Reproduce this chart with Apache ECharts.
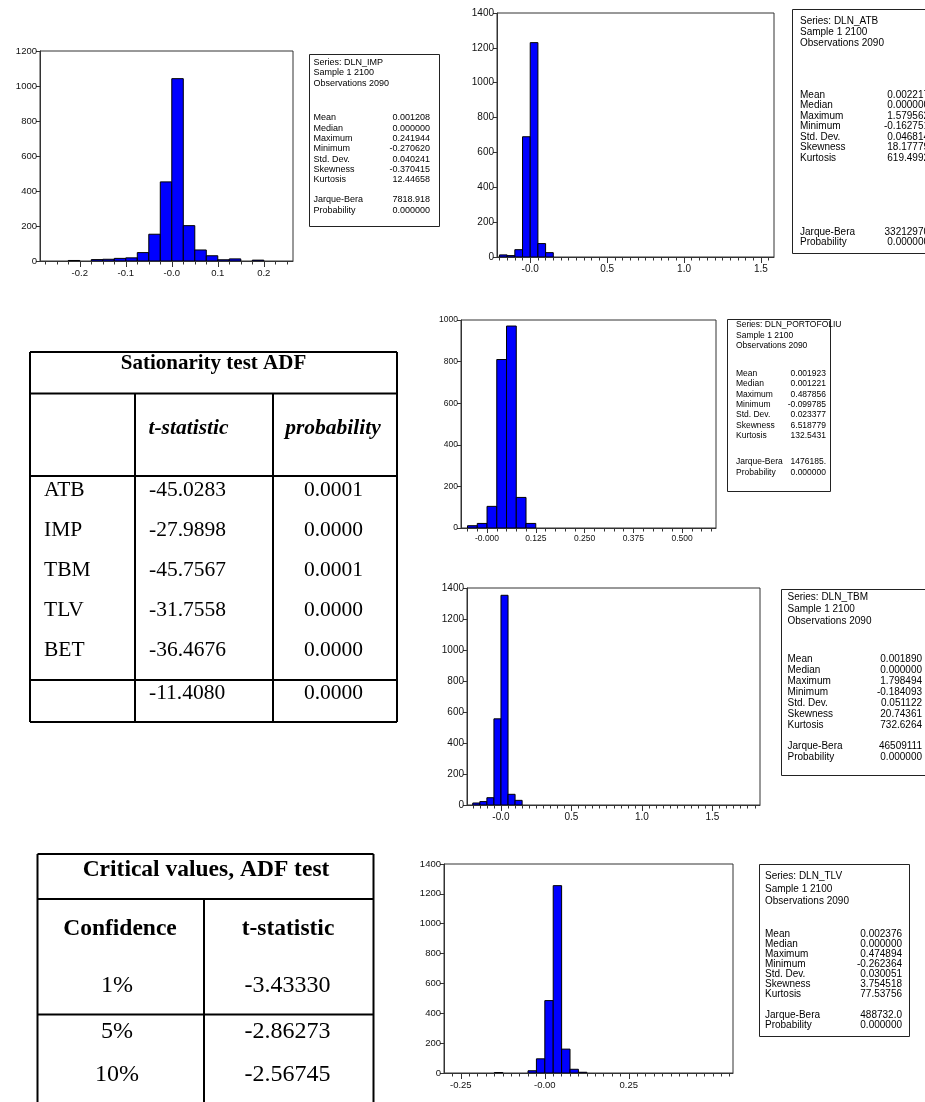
<!DOCTYPE html>
<html><head><meta charset="utf-8">
<script src="https://cdn.jsdelivr.net/npm/echarts@6/dist/echarts.min.js"></script>
<style>html,body{margin:0;padding:0;background:#fff}#c{width:925px;height:1102px}</style>
</head><body><div id="c"></div>
<script>
// ================= DATA =================
// --- IMP histogram ---
const impBinWidth = 0.025;
const impBinStarts = [-0.225,-0.175,-0.15,-0.125,-0.1,-0.075,-0.05,-0.025,0,0.025,0.05,0.075,0.1,0.125,0.175];
const impCounts    = [3,8,10,15,18,48,153,452,1042,202,63,30,7,12,5];
const impTicks     = [-0.2,-0.1,0,0.1,0.2];
const impTickLabels= ['-0.2','-0.1','-0.0','0.1','0.2'];
// --- ATB histogram ---
const atbBinWidth = 0.05;
const atbBinStarts = [-0.2,-0.15,-0.1,-0.05,0,0.05,0.1];
const atbCounts    = [12,8,42,690,1230,77,25];
const atbTicks     = [0,0.5,1,1.5];
const atbTickLabels= ['-0.0','0.5','1.0','1.5'];
// --- PORTOFOLIU histogram ---
const porBinWidth = 0.025;
const porBinStarts = [-0.05,-0.025,0,0.025,0.05,0.075,0.1];
const porCounts    = [11,22,104,810,971,147,22];
const porTicks     = [0,0.125,0.25,0.375,0.5];
const porTickLabels= ['-0.000','0.125','0.250','0.375','0.500'];
// --- TBM histogram ---
const tbmBinWidth = 0.05;
const tbmBinStarts = [-0.2,-0.15,-0.1,-0.05,0,0.05,0.1];
const tbmCounts    = [13,22,47,556,1353,69,30];
const tbmTicks     = [0,0.5,1,1.5];
const tbmTickLabels= ['-0.0','0.5','1.0','1.5'];
// --- TLV histogram ---
const tlvBinWidth = 0.025;
const tlvBinStarts = [-0.15,-0.05,-0.025,0,0.025,0.05,0.075,0.1];
const tlvCounts    = [3,15,95,485,1255,160,25,5];
const tlvTicks     = [-0.25,0,0.25];
const tlvTickLabels= ['-0.25','-0.00','0.25'];

// --- descriptive statistics ---
const statLabels = ['Mean','Median','Maximum','Minimum','Std. Dev.','Skewness','Kurtosis','Jarque-Bera','Probability'];
const impStats = ['0.001208','0.000000','0.241944','-0.270620','0.040241','-0.370415','12.44658','7818.918','0.000000'];
const atbStats = ['0.002217','0.000000','1.579562','-0.162751','0.046814','18.17779','619.4992','33212970','0.000000'];
const porStats = ['0.001923','0.001221','0.487856','-0.099785','0.023377','6.518779','132.5431','1476185.','0.000000'];
const tbmStats = ['0.001890','0.000000','1.798494','-0.184093','0.051122','20.74361','732.6264','46509111','0.000000'];
const tlvStats = ['0.002376','0.000000','0.474894','-0.262364','0.030051','3.754518','77.53756','488732.0','0.000000'];
const sampleText = 'Sample 1 2100';
const obsText = 'Observations 2090';

// --- ADF table ---
const adfTitle = 'Sationarity test ADF';
const adfHeaders = ['t-statistic','probability'];
const adfNames = ['ATB','IMP','TBM','TLV','BET'];
const adfT = ['-45.0283','-27.9898','-45.7567','-31.7558','-36.4676'];
const adfP = ['0.0001','0.0000','0.0001','0.0000','0.0000'];
const adfLastT = '-11.4080';
const adfLastP = '0.0000';
// --- critical values table ---
const critTitle = 'Critical values, ADF test';
const critHeaders = ['Confidence','t-statistic'];
const critConf = ['1%','5%','10%'];
const critT = ['-3.43330','-2.86273','-2.56745'];

// ================= BUILD =================
const SANS = '"Liberation Sans", Arial, sans-serif';
const SERIF = '"Liberation Serif", "Times New Roman", serif';
const grids=[], xAxes=[], yAxes=[], series=[], graphics=[];

function range(a,b,s){const r=[];for(let v=a;v<=b+1e-9;v+=s)r.push(Math.round(v*1e6)/1e6);return r;}

function addHist(o){
  const g = grids.length;
  grids.push({left:o.left, top:o.top, width:o.width, height:o.height, show:true, borderColor:'#333', borderWidth:1, backgroundColor:'rgba(0,0,0,0)'});
  grids.push({left:o.left, top:o.top, width:o.width, height:o.height, show:false});
  const xi = xAxes.length;
  xAxes.push({type:'value', gridIndex:g, min:o.xmin, max:o.xmax, position:'bottom',
    axisLine:{show:true, onZero:false, lineStyle:{color:'#333', width:1}},
    axisTick:{show:true, length:o.majorLen, customValues:o.ticks, lineStyle:{color:'#333'}},
    axisLabel:{show:true, customValues:o.ticks, fontSize:o.fs, fontFamily:SANS, color:'#111', margin:o.majorLen+1,
      formatter:(v)=>{const k=o.ticks.findIndex(m=>Math.abs(m-v)<1e-9);return k>=0?o.labels[k]:'';}},
    splitLine:{show:false}});
  xAxes.push({type:'value', gridIndex:g+1, min:o.xmin, max:o.xmax, position:'bottom',
    axisLine:{show:false, onZero:false}, axisTick:{show:true, length:3.5, customValues:o.minors, lineStyle:{color:'#333'}},
    axisLabel:{show:false}, splitLine:{show:false}});
  const yi = yAxes.length;
  yAxes.push({type:'value', gridIndex:g, min:0, max:o.ymax, interval:200, position:'left',
    axisLine:{show:true, onZero:false, lineStyle:{color:'#333'}}, axisTick:{show:true, length:4, lineStyle:{color:'#333'}},
    axisLabel:{fontSize:o.fs, fontFamily:SANS, color:'#111', margin:3, formatter:(v)=>String(v)}, splitLine:{show:false}});
  yAxes.push({type:'value', gridIndex:g+1, min:0, max:o.ymax, show:false, axisLine:{onZero:false}});
  series.push({type:'custom', xAxisIndex:xi, yAxisIndex:yi, silent:true, clip:true,
    data:o.starts.map((s,i)=>[s, s+o.bw, o.counts[i]]), encode:{x:[0,1], y:2},
    renderItem:(params, api)=>{
      const a = api.coord([api.value(0), api.value(2)]);
      const b = api.coord([api.value(1), 0]);
      return {type:'rect', shape:{x:a[0], y:a[1], width:b[0]-a[0], height:b[1]-a[1]},
        style:{fill:'#0000ff', stroke:'#000', lineWidth:1}};
    }});
}

function txt(x,y,t,font,align){
  graphics.push({type:'text', x:x, y:y, silent:true, z:10, style:{text:t, font:font, fill:'#000',
    align:align||'left', textAlign:align||'left', verticalAlign:'middle', textVerticalAlign:'middle'}});
}
function line(x1,y1,x2,y2,w,c){
  graphics.push({type:'line', silent:true, z:9, shape:{x1:x1,y1:y1,x2:x2,y2:y2}, style:{stroke:c||'#000', lineWidth:w||1}});
}

function addStatBox(o){
  graphics.push({type:'rect', silent:true, z:8, shape:{x:o.x+0.5, y:o.y+0.5, width:o.w, height:o.h},
    style:{fill:'#fff', stroke:'#222', lineWidth:1}});
  const f = o.fs+'px '+SANS;
  const head = ['Series: '+o.name, sampleText, obsText];
  head.forEach((t,i)=>txt(o.lx, o.headY+i*o.hlh, t, f));
  statLabels.forEach((t,i)=>{
    const y = i<7 ? o.statY+i*o.lh : o.jbY+(i-7)*o.lh;
    txt(o.lx, y, t, f);
    txt(o.vx, y, o.vals[i], f, 'right');
  });
}

// histograms
addHist({left:40, top:51, width:253, height:210, xmin:-0.2865, xmax:0.2635, ymax:1200, fs:9.5, majorLen:6,
  ticks:impTicks, labels:impTickLabels, minors:range(-0.275,0.25,0.025),
  starts:impBinStarts, counts:impCounts, bw:impBinWidth});
addHist({left:497, top:13, width:277, height:244, xmin:-0.216, xmax:1.585, ymax:1400, fs:10, majorLen:6,
  ticks:atbTicks, labels:atbTickLabels, minors:range(-0.2,1.55,0.05),
  starts:atbBinStarts, counts:atbCounts, bw:atbBinWidth});
addHist({left:461, top:320, width:255, height:208, xmin:-0.0667, xmax:0.587, ymax:1000, fs:8.5, majorLen:5,
  ticks:porTicks, labels:porTickLabels, minors:range(-0.05,0.575,0.025),
  starts:porBinStarts, counts:porCounts, bw:porBinWidth});
addHist({left:467, top:588, width:293, height:217, xmin:-0.241, xmax:1.837, ymax:1400, fs:10, majorLen:6,
  ticks:tbmTicks, labels:tbmTickLabels, minors:range(-0.2,1.8,0.05),
  starts:tbmBinStarts, counts:tbmCounts, bw:tbmBinWidth});
addHist({left:444, top:864, width:289, height:209, xmin:-0.30, xmax:0.56, ymax:1400, fs:9.5, majorLen:6,
  ticks:tlvTicks, labels:tlvTickLabels, minors:range(-0.275,0.55,0.025),
  starts:tlvBinStarts, counts:tlvCounts, bw:tlvBinWidth});

// stat boxes
addStatBox({name:'DLN_IMP', x:309, y:54, w:130, h:172, fs:9, hlh:10.3, lh:10.3, lx:313.5, vx:430, headY:62.5, statY:118, jbY:200, vals:impStats});
addStatBox({name:'DLN_ATB', x:792, y:9, w:150, h:244, fs:10, hlh:11, lh:10.5, lx:800, vx:929, headY:21, statY:95, jbY:232, vals:atbStats});
addStatBox({name:'DLN_PORTOFOLIU', x:727, y:319, w:103, h:172, fs:8.5, hlh:10.3, lh:10.3, lx:736, vx:826, headY:325, statY:373.7, jbY:462, vals:porStats});
addStatBox({name:'DLN_TBM', x:781, y:589, w:150, h:186, fs:10, hlh:12, lh:11, lx:787.5, vx:922, headY:597, statY:659, jbY:746, vals:tbmStats});
addStatBox({name:'DLN_TLV', x:759, y:864, w:150, h:172, fs:10, hlh:12.5, lh:10.1, lx:765, vx:902, headY:876.5, statY:934, jbY:1015, vals:tlvStats});

// ADF table
(function(){
  const L=30,R=397,T=352,B=722,c1=135,c2=273;
  const lw=2;
  line(L,T,R,T,lw); line(L,B,R,B,lw); line(L,T,L,B,lw); line(R,T,R,B,lw);
  line(L,393.5,R,393.5,lw); line(L,476,R,476,lw); line(L,680,R,680,lw);
  line(c1,393.5,c1,B,lw); line(c2,393.5,c2,B,lw);
  const fs=21.5;
  txt((L+R)/2, 364, adfTitle, 'bold 21px '+SERIF, 'center');
  txt(188.5, 428, adfHeaders[0], 'italic bold '+fs+'px '+SERIF, 'center');
  txt(333, 428, adfHeaders[1], 'italic bold '+fs+'px '+SERIF, 'center');
  adfNames.forEach((n,i)=>{
    const y = 490 + i*40;
    txt(44, y, n, fs+'px '+SERIF);
    txt(149, y, adfT[i], fs+'px '+SERIF);
    txt(333.5, y, adfP[i], fs+'px '+SERIF, 'center');
  });
  txt(149, 693, adfLastT, fs+'px '+SERIF);
  txt(333.5, 693, adfLastP, fs+'px '+SERIF, 'center');
})();

// Critical values table
(function(){
  const L=37.5,R=373.5,T=854,B=1110,c1=204;
  const lw=2;
  line(L,T,R,T,lw); line(L,T,L,B,lw); line(R,T,R,B,lw);
  line(L,899,R,899,lw); line(L,1014.5,R,1014.5,lw); line(c1,899,c1,B,lw);
  txt(206, 870, critTitle, 'bold 23.5px '+SERIF, 'center');
  txt(120, 929, critHeaders[0], 'bold 23.5px '+SERIF, 'center');
  txt(288, 929, critHeaders[1], 'bold 23.5px '+SERIF, 'center');
  const ys=[986,1031.5,1075];
  critConf.forEach((c,i)=>{
    txt(117, ys[i], c, '24px '+SERIF, 'center');
    txt(287.5, ys[i], critT[i], '24px '+SERIF, 'center');
  });
})();

const chart = echarts.init(document.getElementById('c'), null, {renderer:'canvas', width:925, height:1102});
chart.setOption({
  animation:false,
  backgroundColor:'#fff',
  grid:grids, xAxis:xAxes, yAxis:yAxes, series:series, graphic:{elements:graphics}
});
</script>
</body></html>
